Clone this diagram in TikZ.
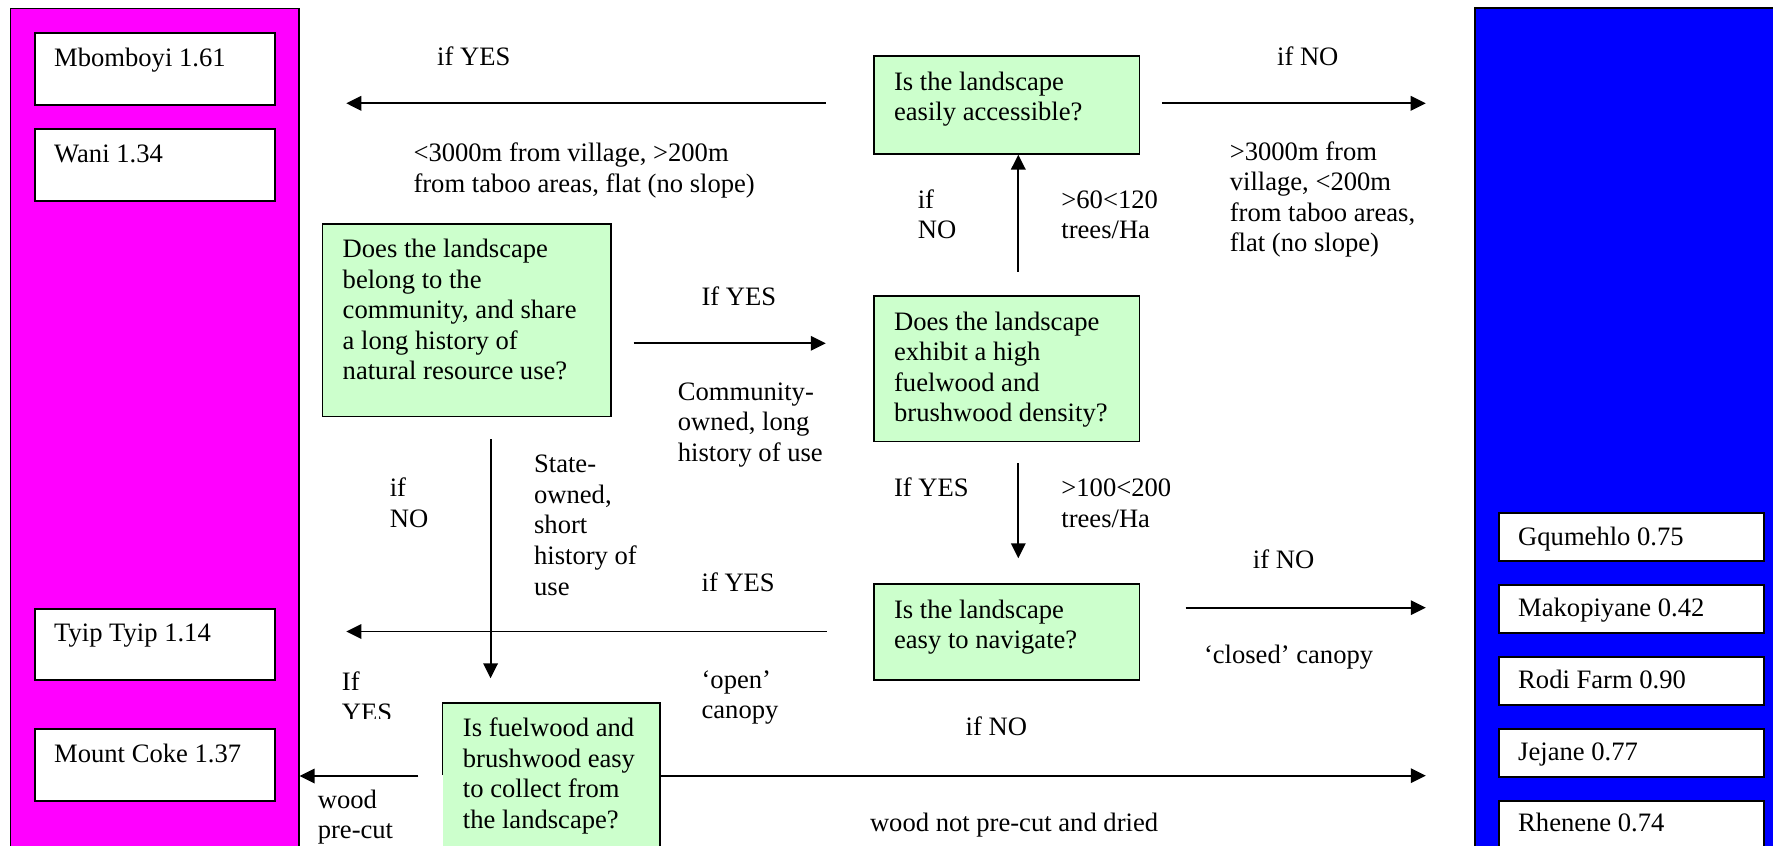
\documentclass[tikz,border=0pt]{standalone}
\usepackage{fontspec}
\setmainfont{Liberation Serif}
\usetikzlibrary{arrows.meta}
\definecolor{qgreen}{RGB}{204,255,204}
\definecolor{panmag}{RGB}{255,0,255}
\definecolor{panblue}{RGB}{0,0,255}
\newcommand\chartfont{\fontsize{26.6}{30.6}\selectfont}
% left-aligned lines whose first baseline is the box baseline
\newcommand\ml[1]{\begin{tabular}[t]{@{}l@{}}#1\end{tabular}}
\begin{document}
\begin{tikzpicture}[x=1pt,y=-1pt,
  panel/.style={draw=black,line width=1.6pt,anchor=north west,inner sep=0},
  sitebox/.style={draw=black,fill=white,line width=2pt,anchor=north west,inner sep=0},
  qbox/.style={draw=black,fill=qgreen,line width=1.6pt,anchor=north west,inner sep=0},
  txt/.style={anchor=base west,inner sep=0,font=\chartfont},
  arr/.style={line width=1.8pt,-{Triangle[length=15pt,width=14.5pt]}}]
\useasboundingbox (0,0) rectangle (1773,846);

% outcome panels
\node[panel,fill=panmag,minimum width=288.5,minimum height=880] (mag) at (9.5,7.5) {};
\node[panel,fill=panblue,minimum width=330,minimum height=880] (blu) at (1474,7) {};

% sites on the left panel
\node[sitebox,minimum width=240.7,minimum height=71.7] (mbo) at (33.7,32) {};
\node[sitebox,minimum width=240.7,minimum height=71.7] (wan) at (33.7,128) {};
\node[sitebox,minimum width=240.7,minimum height=71.3] (tyi) at (33.7,607.7) {};
\node[sitebox,minimum width=240.7,minimum height=71.7] (mco) at (33.7,728) {};
\node[txt] (tmbo) at (54,66.7) {Mbomboyi 1.61};
\node[txt] (twan) at (54,162.7) {Wani 1.34};
\node[txt] (ttyi) at (54,641.7) {Tyip Tyip 1.14};
\node[txt] (tmco) at (54,762.7) {Mount Coke 1.37};

% sites on the right panel
\node[sitebox,minimum width=265.3,minimum height=48.3] (gqu) at (1497.7,511.7) {};
\node[sitebox,minimum width=265.3,minimum height=47.7] (mak) at (1497.7,584) {};
\node[sitebox,minimum width=265.3,minimum height=47.7] (rod) at (1497.7,656) {};
\node[sitebox,minimum width=265.3,minimum height=47.7] (jej) at (1497.7,728) {};
\node[sitebox,minimum width=265.3,minimum height=70] (rhe) at (1497.7,800) {};
\node[txt] (tgqu) at (1518,545) {Gqumehlo 0.75};
\node[txt] (tmak) at (1518,616.7) {Makopiyane 0.42};
\node[txt] (trod) at (1518,688.3) {Rodi Farm 0.90};
\node[txt] (tjej) at (1518,760) {Jejane 0.77};
\node[txt] (trhe) at (1518,831.7) {Rhenene 0.74};

% question boxes
\node[qbox,minimum width=265.6,minimum height=98] (qa) at (873.2,55) {};
\node[qbox,minimum width=265.6,minimum height=145.7] (qb) at (873.2,295) {};
\node[qbox,minimum width=288.8,minimum height=192.4] (qc) at (321.5,223.3) {};
\node[qbox,draw=none,minimum width=215.7,minimum height=170] (qd) at (442.5,703) {};
\draw[line width=1.6pt] (qd.north west |- 0,775) -- (qd.north west) -- (qd.north east) -- (qd.south east);
\node[qbox,minimum width=265.6,minimum height=96] (qe) at (873.2,583.3) {};

\node[txt] (tqa) at (893.9,90) {\ml{Is the landscape\\easily accessible?}};
\node[txt] (tqb) at (893.9,330) {\ml{Does the landscape\\exhibit a high\\fuelwood and\\brushwood density?}};
\node[txt] (tqc) at (342.5,257.5) {\ml{Does the landscape\\belong to the\\community, and share\\a long history of\\natural resource use?}};
\node[txt] (tqd) at (462.7,736.7) {\ml{Is fuelwood and\\brushwood easy\\to collect from\\the landscape?}};
\node[txt] (tqe) at (893.9,618.3) {\ml{Is the landscape\\easy to navigate?}};

% connector end points
\coordinate (a1s) at (825.8,103.3);
\coordinate (a1e) at (346.3,103.3);
\coordinate (a2s) at (1161.8,103.3);
\coordinate (a2e) at (1425.7,103.3);
\coordinate (bas) at (1018.3,271.7);
\coordinate (cbs) at (633.7,343.3);
\coordinate (cbe) at (825.8,343.3);
\coordinate (bes) at (1018.3,463.3);
\coordinate (bee) at (1018.3,558.3);
\coordinate (cds) at (490.6,439.3);
\coordinate (cde) at (490.6,678.3);
\coordinate (e1s) at (826.6,631.5);
\coordinate (e1e) at (346.3,631.5);
\coordinate (e2s) at (1185.5,607.7);
\coordinate (e2e) at (1425.8,607.7);
\coordinate (d1s) at (418.3,776);
\coordinate (d2e) at (1425.8,775.7);

% connectors
\draw[arr] (a1s) -- (a1e);
\draw[arr] (a2s) -- (a2e);
\draw[arr] (bas) -- (bas |- qa.south);
\draw[arr] (cbs) -- (cbe);
\draw[arr] (bes) -- (bee);
\draw[arr] (cds) -- (cde);
\draw[arr] (e1s) -- (e1e);
\draw[arr] (e2s) -- (e2e);
\draw[arr] (d1s) -- (d1s -| mag.east);
\draw[arr] (qd.east |- d2e) -- (d2e);

% connector labels
\node[txt] (l1) at (437,65) {if YES};
\node[txt] (l2) at (1276.9,65) {if NO};
\node[txt] (l3) at (413.3,161.7) {\ml{<3000m from village, >200m\\from taboo areas, flat (no slope)}};
\node[txt] (l4) at (1229.6,160) {\ml{>3000m from\\village, <200m\\from taboo areas,\\flat (no slope)}};
\node[txt] (l5) at (917.6,208.3) {\ml{if\\NO}};
\node[txt] (l6) at (1061.2,208.3) {\ml{>60<120\\trees/Ha}};
\node[txt] (l7) at (701.4,305) {If YES};
\node[txt] (l8) at (677.7,400) {\ml{Community-\\owned, long\\history of use}};
\node[txt] (l9) at (893.9,496.7) {If YES};
\node[txt] (l10) at (1061.2,496.7) {\ml{>100<200\\trees/Ha}};
\node[txt] (l11) at (389.6,496.7) {\ml{if\\NO}};
\node[txt] (l12) at (533.9,472.7) {\ml{State-\\owned,\\short\\history of\\use}};
\node[txt] (l13) at (701.4,591.7) {if YES};
\node[txt] (l14) at (701.4,688.3) {\ml{‘open’\\canopy}};
\node[txt] (l15) at (1252.7,568.3) {if NO};
\node[txt] (l16) at (1203.8,663.3) {‘closed’ canopy};
\begin{scope}
  \clip (330,650) rectangle (430,718.5);
  \node[txt] (l17) at (341.7,690.7) {\ml{If\\YES}};
\end{scope}
\node[txt] (l18) at (965.5,735) {if NO};
\node[txt] (l19) at (317.6,808.3) {\ml{wood\\pre-cut}};
\node[txt] (l20) at (869.8,831.7) {wood not pre-cut and dried};
\end{tikzpicture}
\end{document}
